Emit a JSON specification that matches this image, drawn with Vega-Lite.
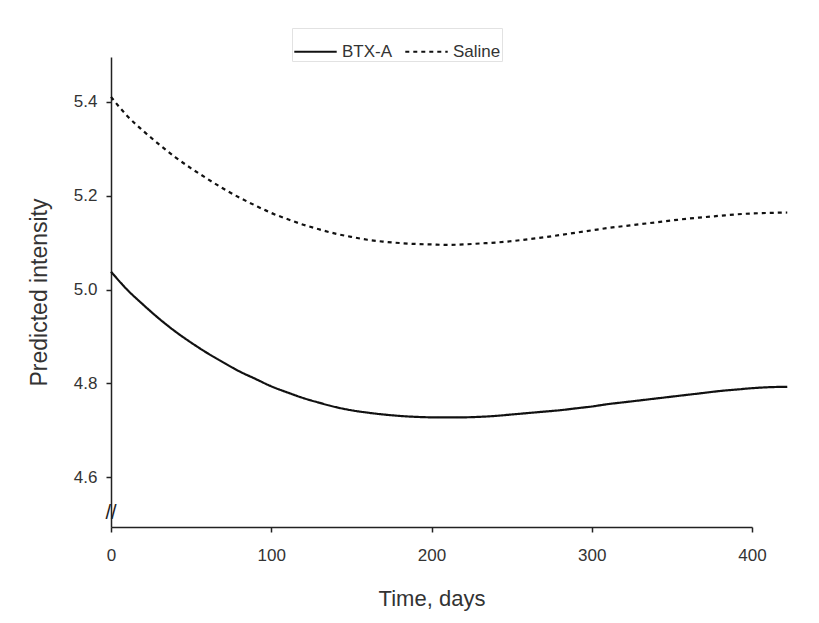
{
  "$schema": "https://vega.github.io/schema/vega-lite/v6.json",
  "width": 641,
  "height": 470,
  "autosize": {"type": "none"},
  "padding": {"left": 111, "top": 57, "right": 67, "bottom": 96},
  "background": "white",
  "config": {
    "font": "Liberation Sans",
    "view": {"stroke": null},
    "axis": {
      "grid": false,
      "domainColor": "#222",
      "tickColor": "#222",
      "domainWidth": 1.5,
      "tickWidth": 1.5,
      "tickSize": 5,
      "labelColor": "#333",
      "titleColor": "#333",
      "labelFont": "Liberation Sans",
      "titleFont": "Liberation Sans",
      "labelFontSize": 17,
      "titleFontSize": 22,
      "titleFontWeight": "normal"
    }
  },
  "datasets": {
    "curves": [
      {"day": 0, "series": "BTX-A", "value": 5.038},
      {"day": 10, "series": "BTX-A", "value": 5.0},
      {"day": 20, "series": "BTX-A", "value": 4.968},
      {"day": 30, "series": "BTX-A", "value": 4.938},
      {"day": 40, "series": "BTX-A", "value": 4.911},
      {"day": 50, "series": "BTX-A", "value": 4.887},
      {"day": 60, "series": "BTX-A", "value": 4.865},
      {"day": 70, "series": "BTX-A", "value": 4.845},
      {"day": 80, "series": "BTX-A", "value": 4.826},
      {"day": 90, "series": "BTX-A", "value": 4.81},
      {"day": 100, "series": "BTX-A", "value": 4.794},
      {"day": 110, "series": "BTX-A", "value": 4.781},
      {"day": 120, "series": "BTX-A", "value": 4.769},
      {"day": 130, "series": "BTX-A", "value": 4.759},
      {"day": 140, "series": "BTX-A", "value": 4.75},
      {"day": 150, "series": "BTX-A", "value": 4.743},
      {"day": 160, "series": "BTX-A", "value": 4.738},
      {"day": 170, "series": "BTX-A", "value": 4.734},
      {"day": 180, "series": "BTX-A", "value": 4.731},
      {"day": 190, "series": "BTX-A", "value": 4.729},
      {"day": 200, "series": "BTX-A", "value": 4.728},
      {"day": 210, "series": "BTX-A", "value": 4.728},
      {"day": 220, "series": "BTX-A", "value": 4.728},
      {"day": 230, "series": "BTX-A", "value": 4.729},
      {"day": 240, "series": "BTX-A", "value": 4.731},
      {"day": 250, "series": "BTX-A", "value": 4.734},
      {"day": 260, "series": "BTX-A", "value": 4.737},
      {"day": 270, "series": "BTX-A", "value": 4.74},
      {"day": 280, "series": "BTX-A", "value": 4.743},
      {"day": 290, "series": "BTX-A", "value": 4.747},
      {"day": 300, "series": "BTX-A", "value": 4.751},
      {"day": 310, "series": "BTX-A", "value": 4.756},
      {"day": 320, "series": "BTX-A", "value": 4.76},
      {"day": 330, "series": "BTX-A", "value": 4.764},
      {"day": 340, "series": "BTX-A", "value": 4.768},
      {"day": 350, "series": "BTX-A", "value": 4.772},
      {"day": 360, "series": "BTX-A", "value": 4.776},
      {"day": 370, "series": "BTX-A", "value": 4.78},
      {"day": 380, "series": "BTX-A", "value": 4.784},
      {"day": 390, "series": "BTX-A", "value": 4.787},
      {"day": 400, "series": "BTX-A", "value": 4.79},
      {"day": 410, "series": "BTX-A", "value": 4.792},
      {"day": 422, "series": "BTX-A", "value": 4.793},
      {"day": 0, "series": "Saline", "value": 5.41},
      {"day": 10, "series": "Saline", "value": 5.37},
      {"day": 20, "series": "Saline", "value": 5.338},
      {"day": 30, "series": "Saline", "value": 5.309},
      {"day": 40, "series": "Saline", "value": 5.282},
      {"day": 50, "series": "Saline", "value": 5.258},
      {"day": 60, "series": "Saline", "value": 5.236},
      {"day": 70, "series": "Saline", "value": 5.215},
      {"day": 80, "series": "Saline", "value": 5.196},
      {"day": 90, "series": "Saline", "value": 5.179},
      {"day": 100, "series": "Saline", "value": 5.163},
      {"day": 110, "series": "Saline", "value": 5.15},
      {"day": 120, "series": "Saline", "value": 5.138},
      {"day": 130, "series": "Saline", "value": 5.128},
      {"day": 140, "series": "Saline", "value": 5.119},
      {"day": 150, "series": "Saline", "value": 5.112},
      {"day": 160, "series": "Saline", "value": 5.106},
      {"day": 170, "series": "Saline", "value": 5.102},
      {"day": 180, "series": "Saline", "value": 5.099},
      {"day": 190, "series": "Saline", "value": 5.097},
      {"day": 200, "series": "Saline", "value": 5.096},
      {"day": 210, "series": "Saline", "value": 5.095},
      {"day": 220, "series": "Saline", "value": 5.096},
      {"day": 230, "series": "Saline", "value": 5.098},
      {"day": 240, "series": "Saline", "value": 5.1},
      {"day": 250, "series": "Saline", "value": 5.103},
      {"day": 260, "series": "Saline", "value": 5.107},
      {"day": 270, "series": "Saline", "value": 5.111},
      {"day": 280, "series": "Saline", "value": 5.116},
      {"day": 290, "series": "Saline", "value": 5.121},
      {"day": 300, "series": "Saline", "value": 5.126},
      {"day": 310, "series": "Saline", "value": 5.131},
      {"day": 320, "series": "Saline", "value": 5.135},
      {"day": 330, "series": "Saline", "value": 5.139},
      {"day": 340, "series": "Saline", "value": 5.143},
      {"day": 350, "series": "Saline", "value": 5.147},
      {"day": 360, "series": "Saline", "value": 5.151},
      {"day": 370, "series": "Saline", "value": 5.154},
      {"day": 380, "series": "Saline", "value": 5.157},
      {"day": 390, "series": "Saline", "value": 5.16},
      {"day": 400, "series": "Saline", "value": 5.162},
      {"day": 410, "series": "Saline", "value": 5.163},
      {"day": 422, "series": "Saline", "value": 5.164}
    ],
    "axisbreak": [{"day": 0, "value": 4.524, "label": "//"}]
  },
  "layer": [
    {
      "data": {"name": "curves"},
      "mark": {"type": "line", "color": "#111", "strokeWidth": 2.2, "interpolate": "monotone"},
      "encoding": {
        "x": {
          "field": "day",
          "type": "quantitative",
          "scale": {"domain": [0, 400], "nice": false, "zero": false},
          "axis": {"values": [0, 100, 200, 300, 400], "title": "Time, days", "labelPadding": 15, "titlePadding": 25, "labelFlush": false}
        },
        "y": {
          "field": "value",
          "type": "quantitative",
          "scale": {"domain": [4.4945, 5.495], "nice": false, "zero": false},
          "axis": {"values": [4.6, 4.8, 5.0, 5.2, 5.4], "format": ".1f", "title": "Predicted intensity", "titleFontSize": 23, "labelPadding": 9, "titlePadding": 22}
        },
        "strokeDash": {
          "field": "series",
          "type": "nominal",
          "scale": {"domain": ["BTX-A", "Saline"], "range": [[1, 0], [4, 4]]},
          "legend": {
            "title": null,
            "orient": "none",
            "legendX": 181,
            "legendY": -29,
            "direction": "horizontal",
            "symbolType": "stroke",
            "symbolSize": 1800,
            "symbolStrokeWidth": 2,
            "symbolStrokeColor": "#111",
            "labelFontSize": 17,
            "labelColor": "#333",
            "labelFont": "Liberation Sans",
            "labelOffset": 4,
            "columnPadding": 8,
            "padding": 1,
            "strokeColor": "#e2e2e2",
            "fillColor": "white",
            "encode": {
              "symbols": {
                "update": {
                  "strokeDash": {"signal": "datum.value === 'Saline' ? [4, 9] : [1, 0]"}
                }
              }
            }
          }
        }
      }
    },
    {
      "data": {"name": "axisbreak"},
      "mark": {"type": "text", "fontSize": 20, "color": "#222", "font": "Liberation Sans"},
      "encoding": {
        "x": {"field": "day", "type": "quantitative"},
        "y": {"field": "value", "type": "quantitative"},
        "text": {"field": "label"}
      }
    }
  ]
}
